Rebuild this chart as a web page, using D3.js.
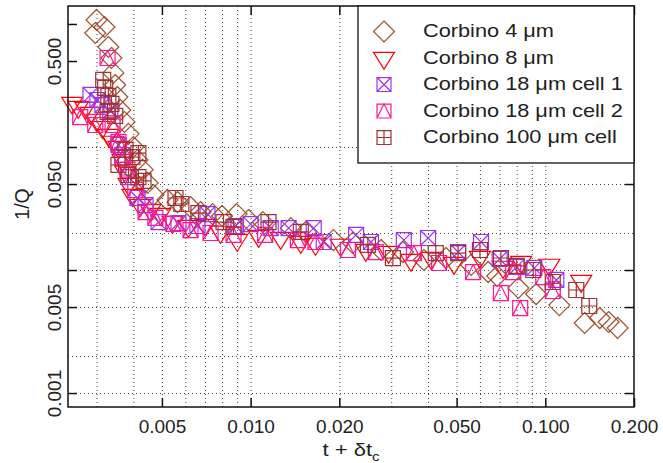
<!DOCTYPE html>
<meta charset="utf-8">
<style>
    html, body { margin: 0; padding: 0; background: #fff; }
    text { font-family: "Liberation Sans", Arial, Helvetica, sans-serif; fill: #222; }
    .grid line { stroke: #444; stroke-width: 1; stroke-dasharray: 1,3; }
    .grid path { display: none; }
    .ticks line { stroke: #111; stroke-width: 1.5; }
    .ticks path { display: none; }
    .ticks text { font-size: 19px; }
</style>
<svg id="chart" width="663" height="463"></svg>
<script src="https://d3js.org/d3.v7.min.js"></script>
<script>
    // [t + dt_c, 1/Q] pairs
    const corbino4 = [
        [0.003, 1.078], [0.00319, 0.945], [0.00297, 0.845], [0.00329, 0.65], [0.00337, 0.529],
        [0.00342, 0.4], [0.00347, 0.319], [0.00353, 0.255], [0.00361, 0.2], [0.00373, 0.16],
        [0.00385, 0.128], [0.004, 0.1], [0.00413, 0.0784], [0.0043, 0.0654], [0.00447, 0.051],
        [0.00468, 0.0407], [0.00522, 0.0371], [0.00565, 0.0357], [0.00625, 0.0325], [0.00676, 0.0296],
        [0.00743, 0.0285], [0.008, 0.0275], [0.00896, 0.0285], [0.00984, 0.0255], [0.011, 0.0245],
        [0.0137, 0.0219], [0.0154, 0.0204], [0.0191, 0.0175], [0.0222, 0.0166], [0.0277, 0.01455],
        [0.0329, 0.014], [0.0387, 0.01206], [0.046, 0.01252], [0.056, 0.011], [0.064, 0.00963],
        [0.0687, 0.00894], [0.081, 0.00714], [0.0931, 0.00638], [0.1116, 0.00519], [0.136, 0.00371],
        [0.153, 0.00407], [0.164, 0.00378], [0.176, 0.00338]
    ];
    const corbino8 = [
        [0.00248, 0.228], [0.0026, 0.211], [0.00275, 0.2075], [0.00286, 0.189], [0.003, 0.166],
        [0.00314, 0.145], [0.00329, 0.125], [0.00342, 0.11], [0.00356, 0.1], [0.00367, 0.0784],
        [0.00376, 0.0627], [0.00385, 0.05], [0.00397, 0.0407], [0.00422, 0.0337], [0.00457, 0.0307],
        [0.00494, 0.0285], [0.00543, 0.0245], [0.00615, 0.0228], [0.00703, 0.0232], [0.0079, 0.0204],
        [0.009, 0.0175], [0.01065, 0.0189], [0.01265, 0.0182], [0.0148, 0.0169], [0.0166, 0.0163],
        [0.0202, 0.016], [0.0246, 0.01455], [0.0294, 0.014], [0.035, 0.01206], [0.041, 0.01252],
        [0.049, 0.0114], [0.06, 0.01276], [0.0719, 0.0106], [0.0828, 0.01162], [0.1032, 0.011],
        [0.1324, 0.00814]
    ];
    const corbino18a = [
        [0.00286, 0.265], [0.00302, 0.241], [0.00314, 0.219], [0.00334, 0.196], [0.00356, 0.1038],
        [0.00367, 0.0861], [0.00385, 0.057], [0.00413, 0.0385], [0.0044, 0.0337], [0.00487, 0.0245],
        [0.00569, 0.0241], [0.0066, 0.0228], [0.00714, 0.0285], [0.00889, 0.0228], [0.01, 0.0236],
        [0.0117, 0.0219], [0.01346, 0.0219], [0.01637, 0.0219], [0.0177, 0.0169], [0.0228, 0.0193],
        [0.0256, 0.0169], [0.0331, 0.0175], [0.04, 0.0182], [0.0506, 0.014], [0.0605, 0.0169],
        [0.07, 0.0123], [0.08, 0.0106], [0.0918, 0.0104], [0.109, 0.0083]
    ];
    const corbino18b = [
        [0.00264, 0.175], [0.00297, 0.151], [0.00327, 0.529], [0.0034, 0.151], [0.00356, 0.11],
        [0.00367, 0.0814], [0.00382, 0.0654], [0.00406, 0.0447], [0.0044, 0.0296], [0.00475, 0.0265],
        [0.00547, 0.0237], [0.00625, 0.0211], [0.00731, 0.02], [0.00875, 0.0193], [0.0112, 0.0193],
        [0.01446, 0.0175], [0.0166, 0.0169], [0.0214, 0.01455], [0.0266, 0.014], [0.0358, 0.01374],
        [0.0436, 0.0114], [0.0569, 0.00963], [0.0778, 0.00963], [0.0707, 0.0065], [0.0822, 0.0049],
        [0.0984, 0.00877], [0.106, 0.00675]
    ];
    const corbino100 = [
        [0.00316, 0.351], [0.00321, 0.302], [0.00329, 0.26], [0.00337, 0.224], [0.00327, 0.193],
        [0.00347, 0.179], [0.00376, 0.0946], [0.00397, 0.0829], [0.00416, 0.0893], [0.00356, 0.0715],
        [0.00385, 0.0592], [0.00416, 0.057], [0.00433, 0.053], [0.00556, 0.0385], [0.00582, 0.0344],
        [0.00665, 0.029], [0.00809, 0.0245], [0.00875, 0.0224], [0.0115, 0.0245], [0.0148, 0.0204],
        [0.025, 0.016], [0.0304, 0.0125], [0.0425, 0.01374], [0.0506, 0.01374], [0.06, 0.01455],
        [0.0707, 0.01252], [0.08, 0.0108], [0.091, 0.01], [0.106, 0.00799], [0.1274, 0.00688],
        [0.141, 0.0051]
    ];

    const seriesNames = ["Corbino 4 \u03bcm", "Corbino 8 \u03bcm", "Corbino 18 \u03bcm cell 1",
        "Corbino 18 \u03bcm cell 2", "Corbino 100 \u03bcm cell"];
    const seriesColors = ["#a0522d", "#ff0000", "#a030f0", "#ff1493", "#a03232"];
    const seriesShapes = ["diamond", "triDown", "squareX", "squareTri", "squarePlus"];
    const seriesData = [corbino4, corbino8, corbino18a, corbino18b, corbino100];

    const xTickVals = [0.005, 0.01, 0.02, 0.05, 0.1, 0.2];
    const xGridVals = [0.003, 0.004, 0.005, 0.006, 0.007, 0.008, 0.009, 0.01, 0.02, 0.03, 0.04, 0.05, 0.06, 0.07, 0.08, 0.09, 0.1];
    const yTickVals = [0.001, 0.005, 0.01, 0.05, 0.1, 0.5, 1];
    const yLabelVals = [0.001, 0.005, 0.05, 0.5];
    const yGridVals = [0.001, 0.002, 0.005, 0.01, 0.02, 0.05, 0.1];

    const svg = d3.select("#chart");
    const pL = 68, pR = 634, pT = 6, pB = 407;
    const w = pR - pL, h = pB - pT;

    const x = d3.scaleLog().domain([0.0024, 0.2]).range([pL, pR]);
    const y = d3.scaleLog().domain([0.00077, 1.4]).range([pB, pT]);
    const fmt = d3.format(".3f");

    //grid
    svg.append("g").attr("class", "grid")
        .attr("transform", `translate(0,${pB})`)
        .call(d3.axisBottom(x).tickValues(xGridVals).tickSize(-h).tickFormat(""));
    svg.append("g").attr("class", "grid")
        .attr("transform", `translate(${pL},0)`)
        .call(d3.axisLeft(y).tickValues(yGridVals).tickSize(-w).tickFormat(""));

    //symbol paths
    function shapePath(kind, s) {
        if (kind === "diamond") {
            const r = 10.5 * s;
            return `M0,${-r}L${r},0L0,${r}L${-r},0Z`;
        }
        if (kind === "triDown") {
            const hw = 10.5 * s, th = 17 * s;
            return `M${-hw},${-th / 3}L${hw},${-th / 3}L0,${2 * th / 3}Z`;
        }
        const q = 7.5 * s;
        const box = `M${-q},${-q}H${q}V${q}H${-q}Z`;
        if (kind === "squareX") return box + `M${-q},${-q}L${q},${q}M${q},${-q}L${-q},${q}`;
        if (kind === "squareTri") return box + `M${-q},${q}L0,${-q}L${q},${q}`;
        return box + `M${-q},0H${q}M0,${-q}V${q}`;
    }

    //points
    seriesData.forEach(function(data, i) {
        svg.append("g")
            .selectAll("path")
            .data(data)
            .enter().append("path")
            .attr("transform", d => `translate(${x(d[0])},${y(d[1])})`)
            .attr("d", shapePath(seriesShapes[i], 1))
            .attr("fill", "none")
            .attr("stroke", seriesColors[i])
            .attr("stroke-width", 1.2);
    });

    //ticks, inward, mirrored on all sides
    svg.append("g").attr("class", "ticks")
        .attr("transform", `translate(0,${pB})`)
        .call(d3.axisBottom(x).tickValues(xTickVals).tickSizeInner(-9).tickSizeOuter(0).tickPadding(13).tickFormat(fmt));
    svg.append("g").attr("class", "ticks")
        .attr("transform", `translate(0,${pT})`)
        .call(d3.axisTop(x).tickValues(xTickVals).tickSizeInner(-9).tickSizeOuter(0).tickFormat(""));
    const yl = svg.append("g").attr("class", "ticks")
        .attr("transform", `translate(${pL},0)`)
        .call(d3.axisLeft(y).tickValues(yTickVals).tickSizeInner(-9).tickSizeOuter(0)
            .tickFormat(d => yLabelVals.includes(d) ? fmt(d) : ""));
    yl.selectAll("text")
        .attr("x", null).attr("dy", null)
        .attr("text-anchor", "middle")
        .attr("transform", "translate(-7,0) rotate(-90)");
    svg.append("g").attr("class", "ticks")
        .attr("transform", `translate(${pR},0)`)
        .call(d3.axisRight(y).tickValues(yTickVals).tickSizeInner(-9).tickSizeOuter(0).tickFormat(""));

    //frame
    svg.append("rect")
        .attr("x", pL).attr("y", pT).attr("width", w).attr("height", h)
        .attr("fill", "none").attr("stroke", "#111").attr("stroke-width", 1.5);

    //axis titles (the source figure is stretched sideways a bit)
    const xt = svg.append("text")
        .attr("transform", `translate(${(pL + pR) / 2},456) scale(1.16,1)`)
        .attr("text-anchor", "middle").style("font-size", "19px");
    xt.append("tspan").text("t + \u03b4t");
    xt.append("tspan").text("c").attr("dy", 5).style("font-size", "13px");

    svg.append("text")
        .attr("transform", "translate(29,204) rotate(-90)")
        .attr("text-anchor", "middle").style("font-size", "19.5px")
        .text("1/Q");

    //legend
    const lg = svg.append("g");
    lg.append("rect")
        .attr("x", 358).attr("y", pT).attr("width", pR - 358).attr("height", 163 - pT)
        .attr("fill", "#fff").attr("stroke", "#111").attr("stroke-width", 1.3);
    seriesNames.forEach(function(name, i) {
        const base = 37 + 26.5 * i;
        lg.append("path")
            .attr("transform", `translate(384,${base - 5.5})`)
            .attr("d", shapePath(seriesShapes[i], i < 2 ? 1 : 0.93))
            .attr("fill", "none")
            .attr("stroke", seriesColors[i])
            .attr("stroke-width", 1.2);
        lg.append("text")
            .attr("transform", `translate(423,${base}) scale(1.145,1)`)
            .style("font-size", "19px")
            .text(name);
    });
</script>
